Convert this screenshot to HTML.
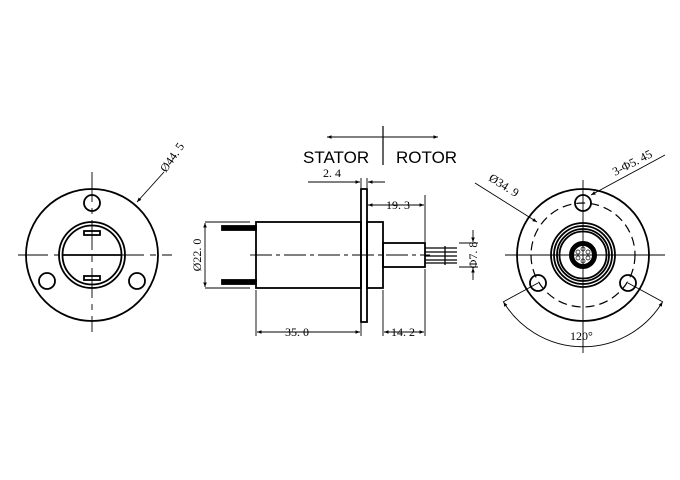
<!DOCTYPE html>
<html><head><style>body{margin:0;background:#fff}svg{display:block}text{font-family:"Liberation Serif",serif;font-size:12px;fill:#000}</style></head><body>
<svg width="680" height="480" viewBox="0 0 680 480" xmlns="http://www.w3.org/2000/svg">
<defs><marker id="a" viewBox="0 0 10 10" refX="10" refY="5" markerWidth="7" markerHeight="5" orient="auto-start-reverse"><path d="M0,1L10,5L0,9z" fill="#000"/></marker></defs>
<g fill="none" stroke="#000" stroke-width="1.8">
<!-- left view -->
<circle cx="92" cy="255" r="66"/>
<circle cx="92" cy="203" r="8"/><circle cx="47" cy="281" r="8"/><circle cx="137" cy="281" r="8"/>
<circle cx="92" cy="255" r="33"/><circle cx="92" cy="255" r="29.5"/>
<line x1="62" y1="255" x2="122" y2="255"/>
<rect x="84" y="231" width="16" height="4"/><rect x="84" y="276" width="16" height="4"/>
<g stroke-width="0.9" stroke-dasharray="30,6,6,6"><line x1="18" y1="255" x2="172" y2="255"/><line x1="92" y1="172" x2="92" y2="332"/></g>
<line x1="164" y1="172" x2="137" y2="202" stroke-width="0.9" marker-end="url(#a)"/>
<!-- middle -->
<line x1="327" y1="137" x2="438" y2="137" stroke-width="0.9" marker-start="url(#a)" marker-end="url(#a)"/>
<line x1="383" y1="126" x2="383" y2="165" stroke-width="1.2"/>
<rect x="361" y="189" width="6" height="133"/>
<rect x="256" y="222" width="105" height="66"/>
<rect x="367" y="222" width="16" height="66"/>
<rect x="383" y="243" width="42" height="24"/>
<g stroke-width="1.3"><line x1="425" y1="248" x2="457" y2="248"/><line x1="425" y1="252" x2="457" y2="252"/><line x1="425" y1="256" x2="457" y2="256"/><line x1="425" y1="260" x2="457" y2="260"/><line x1="425" y1="263" x2="457" y2="263"/><line x1="445" y1="246" x2="445" y2="265"/></g>
<rect x="222" y="226" width="34" height="4" fill="#000"/><rect x="222" y="280" width="34" height="4" fill="#000"/>
<line x1="250" y1="255" x2="430" y2="255" stroke-width="0.9" stroke-dasharray="22,4,4,4"/>
<g stroke-width="0.9">
<line x1="205" y1="222" x2="250" y2="222"/><line x1="205" y1="288" x2="250" y2="288"/>
<line x1="205" y1="223" x2="205" y2="287" marker-start="url(#a)" marker-end="url(#a)"/>
<line x1="308" y1="182" x2="360" y2="182" marker-end="url(#a)"/><line x1="385" y1="182" x2="368" y2="182" marker-end="url(#a)"/>
<line x1="361" y1="178" x2="361" y2="188"/><line x1="367" y1="178" x2="367" y2="188"/>
<line x1="368" y1="205" x2="424" y2="205" marker-start="url(#a)" marker-end="url(#a)"/>
<line x1="425" y1="195" x2="425" y2="242"/>
<line x1="256" y1="290" x2="256" y2="336"/><line x1="361" y1="323" x2="361" y2="336"/>
<line x1="383" y1="290" x2="383" y2="336"/><line x1="425" y1="269" x2="425" y2="336"/>
<line x1="257" y1="332" x2="360" y2="332" marker-start="url(#a)" marker-end="url(#a)"/>
<line x1="384" y1="332" x2="424" y2="332" marker-start="url(#a)" marker-end="url(#a)"/>
<line x1="459" y1="243" x2="478" y2="243"/><line x1="459" y1="267" x2="478" y2="267"/>
<line x1="473" y1="230" x2="473" y2="242" marker-end="url(#a)"/><line x1="473" y1="280" x2="473" y2="268" marker-end="url(#a)"/>
</g>
<!-- right view -->
<circle cx="583" cy="255" r="66"/>
<circle cx="583" cy="255" r="52" stroke-width="1.2" stroke-dasharray="9,5"/>
<circle cx="583" cy="203" r="8"/><circle cx="538" cy="283" r="8"/><circle cx="628" cy="283" r="8"/>
<circle cx="583" cy="255" r="32"/><circle cx="583" cy="255" r="29"/><circle cx="583" cy="255" r="26"/><circle cx="583" cy="255" r="23.5"/>
<circle cx="583" cy="255" r="11.5" stroke-width="5"/>
<g stroke-width="0.7"><circle cx="583" cy="249" r="2"/><circle cx="583" cy="261" r="2"/><circle cx="578" cy="252" r="2"/><circle cx="588" cy="252" r="2"/><circle cx="578" cy="258" r="2"/><circle cx="588" cy="258" r="2"/></g>
<g stroke-width="0.9">
<line x1="505" y1="255" x2="665" y2="255"/><line x1="583" y1="180" x2="583" y2="353"/>
<line x1="475" y1="183" x2="537" y2="222" marker-end="url(#a)"/>
<line x1="665" y1="155" x2="591" y2="195" marker-end="url(#a)"/>
<line x1="538" y1="283" x2="503" y2="302"/><line x1="628" y1="283" x2="663" y2="302"/>
<path d="M503.5,302 A93,93 0 0 0 662.5,302" marker-start="url(#a)" marker-end="url(#a)"/>
</g>
</g>
<text x="323" y="177">2. 4</text>
<text x="386" y="209">19. 3</text>
<text x="285" y="336">35. 0</text>
<text x="391" y="336">14. 2</text>
<text transform="translate(201,255) rotate(-90)" text-anchor="middle">Ø22. 0</text>
<text transform="translate(477,255) rotate(-90)" text-anchor="middle">Φ7. 8</text>
<text transform="translate(166,173) rotate(-55)">Ø44. 5</text>
<text transform="translate(488,180) rotate(32)">Ø34. 9</text>
<text transform="translate(615,176) rotate(-27)">3-Φ5. 45</text>
<text x="570" y="340">120°</text>
<text x="303" y="163" style="font-family:'Liberation Sans',sans-serif;font-size:17px">STATOR</text>
<text x="396" y="163" style="font-family:'Liberation Sans',sans-serif;font-size:17px">ROTOR</text>
</svg>
</body></html>
